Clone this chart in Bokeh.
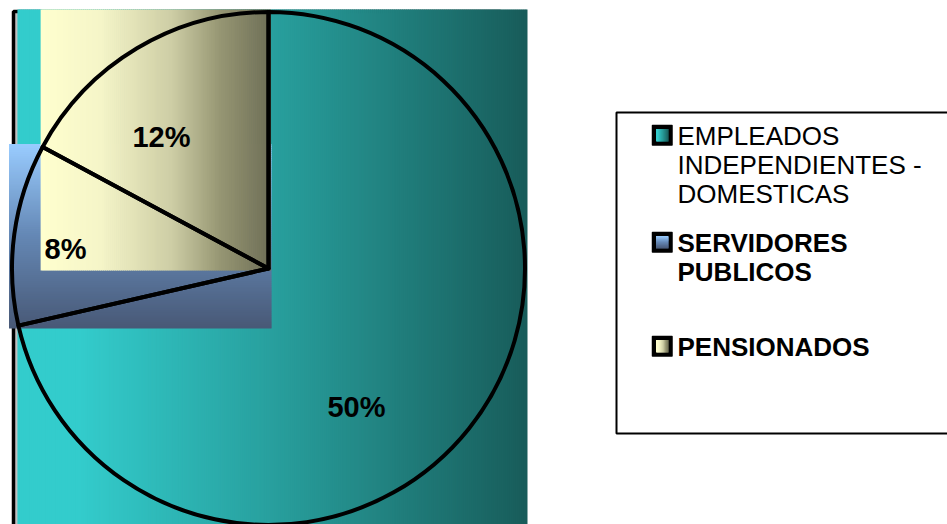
import math
import textwrap
from bokeh.plotting import figure
from bokeh.models import Range1d, ColumnDataSource
from bokeh.core.properties import value
from bokeh.embed import file_html
from bokeh.resources import INLINE

# ---- data ----
categories = ["EMPLEADOS INDEPENDIENTES - DOMESTICAS", "SERVIDORES PUBLICOS", "PENSIONADOS"]
values = [50, 8, 12]
pct_labels = ["50%", "8%", "12%"]

# ---- layout / style ----
W, H = 947, 524
CX, CY_PIX, R = 268.0, 268.0, 256.5
FONT = "Liberation Sans"
BASE_FIX = 0.39  # renderer baseline correction (em)


def Y(ypix):
    return H - ypix


CY = Y(CY_PIX)

fill_stops = [
    ("h", [(0, (51, 204, 204)), (0.12, (51, 204, 204)), (0.56, (38, 152, 150)), (1, (24, 92, 90))]),
    ("v", [(0, (153, 204, 255)), (0.5, (100, 135, 180)), (1, (72, 88, 118))]),
    ("h", [(0, (255, 255, 206)), (0.26, (245, 245, 200)), (0.57, (205, 205, 165)),
           (0.78, (150, 150, 115)), (1, (110, 110, 86))]),
]
bbox_pad = [1.0, 3.0, 2.0]
label_shift_deg = [19.1, -2.4, -8.5]
label_rfrac = [0.641, 0.795, 0.658]
label_size = 29
legend_row_top = [125, 232, 336]
legend_bold = [False, True, True]
legend_font_px = 26
legend_line_px = 29


def interp(stops, t):
    for (t0, c0), (t1, c1) in zip(stops[:-1], stops[1:]):
        if t <= t1:
            f = 0 if t1 == t0 else (t - t0) / (t1 - t0)
            return tuple(int(round(a + (b - a) * f)) for a, b in zip(c0, c1))
    return stops[-1][1]


def hexc(c):
    return "#%02x%02x%02x" % c


def gradient(x0, x1, ytop, ybot, orient, stops, step=2.0):
    d = dict(left=[], right=[], top=[], bottom=[], color=[])
    if orient == "h":
        n = max(2, int(math.ceil((x1 - x0) / step)))
        w = (x1 - x0) / n
        for i in range(n):
            t = (i + 0.5) / n
            d["left"].append(x0 + i * w)
            d["right"].append(min(x1, x0 + (i + 1) * w + 0.8))
            d["top"].append(Y(ytop))
            d["bottom"].append(Y(ybot))
            d["color"].append(hexc(interp(stops, t)))
    else:
        n = max(2, int(math.ceil((ybot - ytop) / step)))
        h = (ybot - ytop) / n
        for i in range(n):
            t = (i + 0.5) / n
            d["left"].append(x0)
            d["right"].append(x1)
            d["top"].append(Y(ytop + i * h))
            d["bottom"].append(Y(min(ybot, ytop + (i + 1) * h + 0.8)))
            d["color"].append(hexc(interp(stops, t)))
    return d


p = figure(width=W, height=H, output_backend="svg", toolbar_location=None,
           x_range=Range1d(0, W), y_range=Range1d(0, H),
           x_axis_type=None, y_axis_type=None, min_border=0)
p.outline_line_color = None
p.grid.visible = False
p.background_fill_color = "white"
p.border_fill_color = "white"

# plot area (gray with black border), mostly hidden behind the pie
p.quad(left=[13], right=[500], top=[Y(11)], bottom=[Y(540)],
       fill_color="#c0c0c0", line_color="black", line_width=3.5)

# slice angles (clockwise from 12 o'clock)
total = float(sum(values))
angles = []
acc = 0.0
for v in values:
    a0 = acc / total * 2 * math.pi
    acc += v
    a1 = acc / total * 2 * math.pi
    angles.append((a0, a1))

# gradient-filled bounding boxes of each slice
for i, (a0, a1) in enumerate(angles):
    pts = [(0.0, 0.0)]
    cand = [a0, a1] + [k * math.pi / 2 for k in range(5) if a0 <= k * math.pi / 2 <= a1]
    for a in cand:
        pts.append((R * math.sin(a), R * math.cos(a)))
    xs = [CX + px for px, py in pts]
    ys_pix = [CY_PIX - py for px, py in pts]
    pad = bbox_pad[i]
    orient, stops = fill_stops[i]
    x0 = min(xs) - pad
    x1 = max(xs) + max(pad, 2.5)
    g = gradient(x0, x1, min(ys_pix) - max(pad, 2.5), max(ys_pix) + pad, orient, stops)
    p.quad(source=ColumnDataSource(g), left="left", right="right", top="top", bottom="bottom",
           fill_color="color", line_color=None)

# slice outlines
p.wedge(x=[CX] * len(values), y=[CY] * len(values), radius=R,
        start_angle=[math.pi / 2 - a1 for a0, a1 in angles],
        end_angle=[math.pi / 2 - a0 for a0, a1 in angles],
        direction="anticlock", fill_color=None, line_color="black",
        line_width=4, line_join="round")

# percentage labels
lx, ly = [], []
for i, (a0, a1) in enumerate(angles):
    am = (a0 + a1) / 2 + math.radians(label_shift_deg[i])
    r = R * label_rfrac[i]
    lx.append(CX + r * math.sin(am))
    ly.append(CY + r * math.cos(am) - 0.358 * label_size + BASE_FIX * label_size)
p.text(x=lx, y=ly, text=pct_labels, text_font=value(FONT), text_font_style="bold",
       text_font_size=f"{label_size}px", text_align="center", text_baseline="alphabetic",
       text_color="black")

# legend box
p.quad(left=[616], right=[980], top=[Y(112)], bottom=[Y(433)],
       fill_color="white", line_color="black", line_width=2)

for i, cat in enumerate(categories):
    top = legend_row_top[i]
    p.quad(left=[652], right=[671.5], top=[Y(top)], bottom=[Y(top + 19.5)],
           fill_color="black", line_color="black", line_width=1.5, line_join="round")
    orient, stops = fill_stops[i]
    g = gradient(655.5, 668.0, top + 3.5, top + 16.0, orient, stops, step=1.0)
    p.quad(source=ColumnDataSource(g), left="left", right="right", top="top", bottom="bottom",
           fill_color="color", line_color=None)
    lines = textwrap.wrap(cat, width=16)
    p.text(x=[677] * len(lines),
           y=[Y(top + 21 + j * legend_line_px - BASE_FIX * legend_font_px) for j in range(len(lines))],
           text=lines, text_font=value(FONT),
           text_font_style="bold" if legend_bold[i] else "normal",
           text_font_size=f"{legend_font_px}px", text_align="left",
           text_baseline="alphabetic", text_color="black")

open("out.html", "w").write(file_html(p, INLINE))
